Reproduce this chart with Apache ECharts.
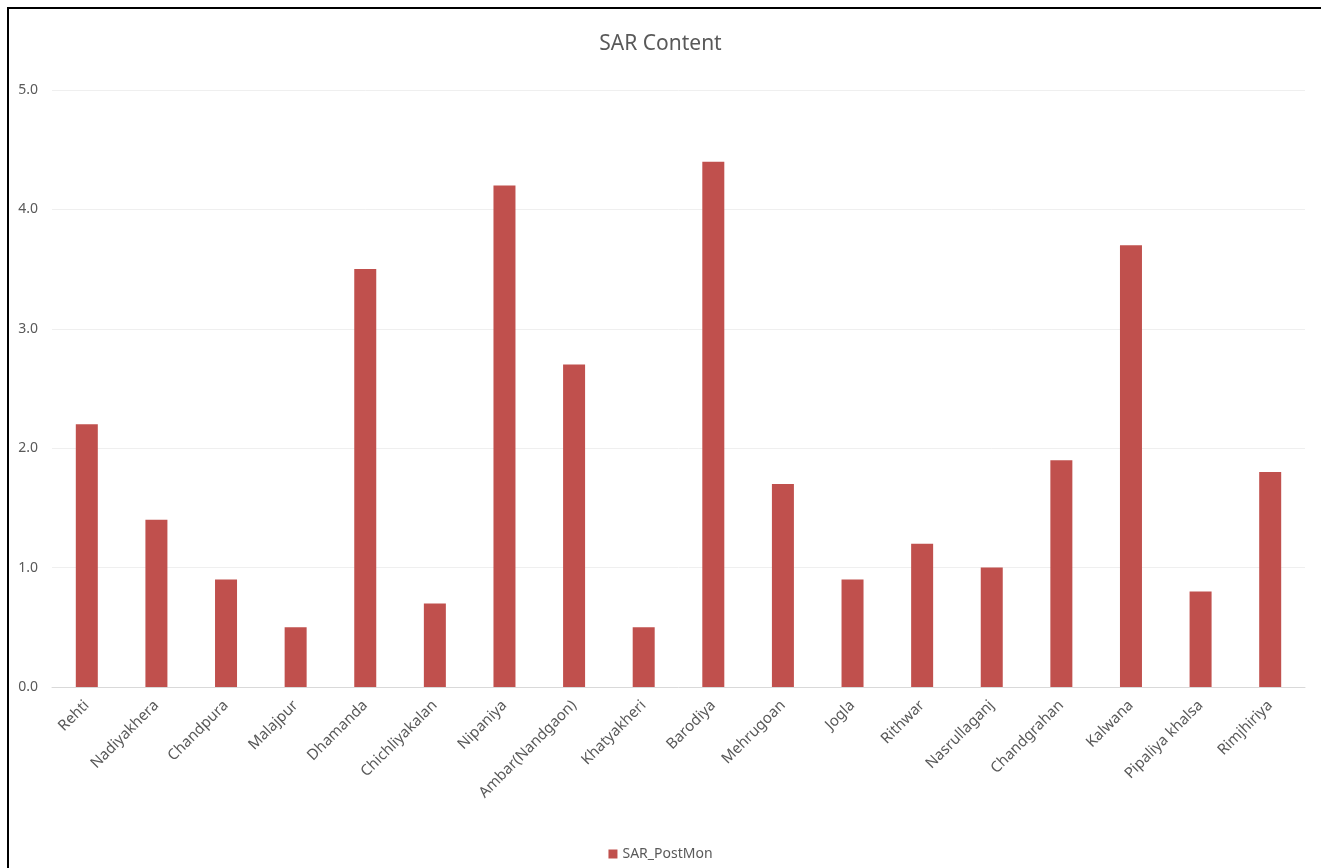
<!DOCTYPE html>
<html>
<head>
<meta charset="utf-8">
<script src="https://cdn.jsdelivr.net/npm/echarts@6/dist/echarts.min.js"></script>
<style>
  html, body { margin: 0; padding: 0; background: #fff; overflow: hidden; width: 1321px; height: 868px; }
  #frame { position: absolute; left: 7px; top: 7px; width: 1340px; height: 900px;
           border-top: 2px solid #000; border-left: 2px solid #000; }
  #sarChart { position: absolute; left: 0; top: 0; width: 1321px; height: 868px; }
</style>
</head>
<body>
<div id="frame"></div>
<div id="sarChart"></div>
<script>
var villageName = ['Rehti', 'Nadiyakhera', 'Chandpura', 'Malajpur', 'Dhamanda', 'Chichliyakalan',
    'Nipaniya', 'Ambar(Nandgaon)', 'Khatyakheri', 'Barodiya', 'Mehrugoan', 'Jogla', 'Rithwar',
    'Nasrullaganj', 'Chandgrahan', 'Kalwana', 'Pipaliya khalsa', 'Rimjhiriya'];
var sarData = [2.2, 1.4, 0.9, 0.5, 3.5, 0.7, 4.2, 2.7, 0.5, 4.4, 1.7, 0.9, 1.2, 1.0, 1.9, 3.7, 0.8, 1.8];
var seriesName = 'SAR_PostMon';

var sarChart = echarts.init(document.getElementById('sarChart'));
var fontName = "'Noto Sans', sans-serif";

sarChart.setOption({
    animation: false,
    title: {
        text: 'SAR Content', left: 'center', top: 29,
        textStyle: { color: '#595959', fontSize: 21, fontWeight: 'normal', fontFamily: fontName }
    },
    legend: {
        data: [seriesName], bottom: 2, left: 'center',
        itemWidth: 9, itemHeight: 9, itemGap: 4,
        icon: 'rect',
        textStyle: { color: '#595959', fontSize: 14, fontFamily: fontName }
    },
    grid: { left: 52, right: 16, top: 90, bottom: 181 },
    xAxis: {
        type: 'category', data: villageName,
        axisLine: { lineStyle: { color: '#d9d9d9' } },
        axisTick: { show: false },
        axisLabel: { rotate: 45, color: '#595959', fontSize: 15, fontFamily: fontName, interval: 0, margin: 16 }
    },
    yAxis: {
        type: 'value', min: 0, max: 5, interval: 1,
        axisLabel: { color: '#595959', fontSize: 14, fontFamily: fontName, margin: 14,
            formatter: function (v) { return v.toFixed(1); } },
        splitLine: { lineStyle: { color: '#efefef' } },
        axisLine: { show: false }, axisTick: { show: false }
    },
    series: [{
        name: seriesName, type: 'bar', data: sarData, barWidth: 22,
        itemStyle: { color: '#c0504d' }
    }]
});
</script>
</body>
</html>
